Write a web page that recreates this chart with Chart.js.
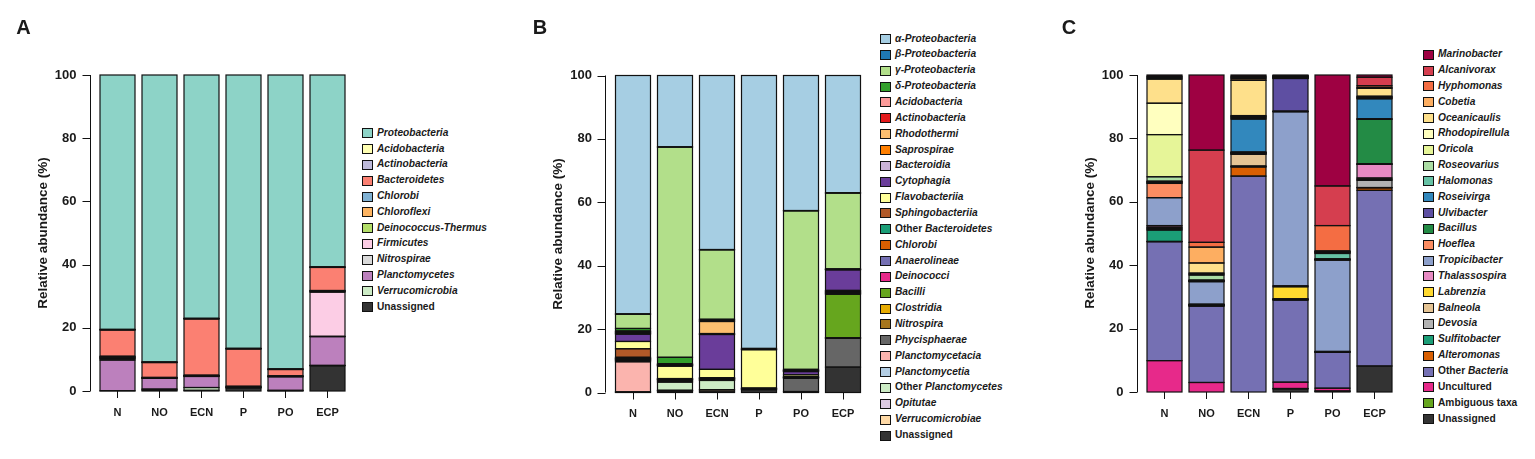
<!DOCTYPE html>
<html>
<head>
<meta charset="utf-8">
<script src="https://cdn.jsdelivr.net/npm/chart.js@4.4.1/dist/chart.umd.min.js"></script>
<style>
  body { margin: 0; background: #fff; width: 1535px; height: 459px; position: relative; overflow: hidden;
         font-family: "Liberation Sans", Arial, sans-serif; color: #1a1a1a; }
  canvas { position: absolute; top: 0; }
  .letter { position: absolute; font-size: 20px; font-weight: bold; line-height: 1; transform: translate(-50%, -50%); }
  .ytitle { position: absolute; font-size: 13.5px; font-weight: bold; line-height: 1; white-space: nowrap;
            transform: translate(-50%, -50%) rotate(-90deg); }
  .sw { position: absolute; width: 9px; height: 8px; border: 1px solid #111; }
  .leg { position: absolute; font-size: 10.2px; font-weight: bold; line-height: 12px; white-space: nowrap; }
</style>
</head>
<body>
<canvas id="chartA" width="352" height="459" style="left:0px"></canvas>
<canvas id="chartB" width="348" height="459" style="left:520px"></canvas>
<canvas id="chartC" width="350" height="459" style="left:1050px"></canvas>

<script>
// Samples on the x axis and y ticks shared by the three panels
const samples = ['N', 'NO', 'ECN', 'P', 'PO', 'ECP'];
const yTicks = [0, 20, 40, 60, 80, 100];

// Panel A - phylum level (legend order, top of stack first)
const phylumNames = ['Proteobacteria', 'Acidobacteria', 'Actinobacteria', 'Bacteroidetes', 'Chlorobi',
  'Chloroflexi', 'Deinococcus-Thermus', 'Firmicutes', 'Nitrospirae', 'Planctomycetes', 'Verrucomicrobia', 'Unassigned'];
const phylumColors = ['#8dd3c7', '#ffffb3', '#bebada', '#fb8072', '#80b1d3', '#fdb462', '#b3de69', '#fccde5',
  '#d9d9d9', '#bc80bd', '#ccebc5', '#333333'];
// one row per phylum, columns N, NO, ECN, P, PO, ECP
const phylumShares = [
  [80.5, 90.8, 77.0, 86.5, 93.0, 60.7],
  [0.1, 0.1, 0.1, 0.1, 0.1, 0.1],
  [0.1, 0.1, 0.1, 0.1, 0.1, 0.1],
  [8.3, 4.7, 17.8, 11.8, 2.0, 7.3],
  [0.2, 0, 0, 0, 0, 0.1],
  [0.2, 0, 0.1, 0, 0, 0.2],
  [0.2, 0.1, 0.1, 0, 0.1, 0.2],
  [0.2, 0.1, 0.1, 0, 0.1, 14.0],
  [0.4, 0.1, 0.1, 0.2, 0.1, 0.1],
  [9.7, 3.4, 3.5, 0.2, 4.3, 9.1],
  [0.1, 0.3, 0.9, 0.1, 0.1, 0.1],
  [0, 0.3, 0.2, 1.0, 0.1, 8.0]
];

// Panel B - class level
const classNames = ['α-Proteobacteria', 'β-Proteobacteria', 'γ-Proteobacteria', 'δ-Proteobacteria', 'Acidobacteria',
  'Actinobacteria', 'Rhodothermi', 'Saprospirae', 'Bacteroidia', 'Cytophagia', 'Flavobacteriia', 'Sphingobacteriia',
  'Other Bacteroidetes', 'Chlorobi', 'Anaerolineae', 'Deinococci', 'Bacilli', 'Clostridia', 'Nitrospira',
  'Phycisphaerae', 'Planctomycetacia', 'Planctomycetia', 'Other Planctomycetes', 'Opitutae', 'Verrucomicrobiae', 'Unassigned'];
const classColors = ['#a6cee3', '#1f78b4', '#b2df8a', '#33a02c', '#fb9a99', '#e31a1c', '#fdbf6f', '#ff7f00',
  '#cab2d6', '#6a3d9a', '#ffff99', '#b15928', '#1b9e77', '#d95f02', '#7570b3', '#e7298a', '#66a61e', '#e6ab02',
  '#a6761d', '#666666', '#fbb4ae', '#b3cde3', '#ccebc5', '#decbe4', '#fed9a6', '#333333'];
const classShares = [
  [75.2, 22.5, 54.9, 86.1, 42.6, 37.0],
  [0.1, 0.1, 0.1, 0, 0.1, 0.1],
  [4.5, 66.3, 21.9, 0.2, 50.0, 23.9],
  [0.8, 2.0, 0.2, 0, 0.2, 0],
  [0.2, 0.2, 0.3, 0.1, 0.1, 0.1],
  [0.2, 0.1, 0.2, 0, 0.1, 0],
  [0.2, 0.1, 3.8, 0, 0.1, 0],
  [0.2, 0.1, 0.2, 0, 0.1, 0.1],
  [0.2, 0.1, 0.1, 0, 0.1, 0.1],
  [2.3, 0.2, 11.0, 0.1, 1.0, 6.5],
  [2.3, 3.9, 2.6, 12.1, 0.6, 0.2],
  [2.7, 0.1, 0.1, 0, 0.1, 0.2],
  [0.2, 0.1, 0.1, 0, 0.1, 0.2],
  [0.2, 0, 0, 0, 0, 0.2],
  [0.1, 0, 0.1, 0, 0, 0.2],
  [0.1, 0, 0, 0, 0, 0.2],
  [0.2, 0, 0, 0, 0.1, 13.7],
  [0.1, 0.1, 0.1, 0.1, 0.1, 0.1],
  [0.2, 0.1, 0.1, 0.1, 0.1, 0.1],
  [0.3, 0.2, 0.2, 0.2, 4.2, 9.1],
  [9.5, 0.4, 0.1, 0, 0, 0],
  [0, 0.1, 0.1, 0, 0, 0],
  [0.1, 2.6, 2.9, 0, 0, 0],
  [0, 0.1, 0.1, 0, 0, 0],
  [0.1, 0.1, 0.6, 0.1, 0, 0],
  [0, 0.5, 0.2, 0.9, 0.3, 8.0]
];

// Panel C - genus level
const genusNames = ['Marinobacter', 'Alcanivorax', 'Hyphomonas', 'Cobetia', 'Oceanicaulis', 'Rhodopirellula',
  'Oricola', 'Roseovarius', 'Halomonas', 'Roseivirga', 'Ulvibacter', 'Bacillus', 'Hoeflea', 'Tropicibacter',
  'Thalassospira', 'Labrenzia', 'Balneola', 'Devosia', 'Sulfitobacter', 'Alteromonas', 'Other Bacteria',
  'Uncultured', 'Ambiguous taxa', 'Unassigned'];
const genusColors = ['#9e0142', '#d53e4f', '#f46d43', '#fdae61', '#fee08b', '#ffffbf', '#e6f598', '#abdda4',
  '#66c2a5', '#3288bd', '#5e4fa2', '#238b45', '#fc8d62', '#8da0cb', '#e78ac3', '#ffd92f', '#e5c494', '#b3b3b3',
  '#1b9e77', '#d95f02', '#7570b3', '#e7298a', '#66a61e', '#333333'];
const genusShares = [
  [0.4, 23.7, 0.4, 0.2, 35.0, 0.7],
  [0.3, 29.1, 0.4, 0.1, 12.5, 2.7],
  [0.3, 1.5, 0.4, 0.1, 8.0, 0.6],
  [0.3, 5.0, 0.5, 0.1, 0.2, 0.2],
  [7.6, 3.2, 11.1, 0.1, 0.1, 2.5],
  [9.9, 0.3, 0.3, 0.1, 0.1, 0.2],
  [13.3, 0.3, 0.2, 0.1, 0.2, 0.2],
  [1.4, 1.6, 0.3, 0.1, 0.2, 0.2],
  [0.2, 0.1, 0.3, 0.1, 1.7, 0.2],
  [0.1, 0.1, 10.4, 0.1, 0.1, 6.3],
  [0.2, 0.1, 0.1, 10.3, 0.1, 0.2],
  [0.2, 0.1, 0.1, 0.1, 0.1, 14.0],
  [4.5, 0.1, 0.1, 0.1, 0.1, 0.1],
  [8.8, 7.1, 0.2, 54.9, 28.8, 0.1],
  [0.5, 0.1, 0.1, 0.3, 0, 4.3],
  [0.3, 0.1, 0.1, 3.8, 0, 0.4],
  [0.3, 0.1, 3.7, 0.1, 0, 0.3],
  [0.3, 0.1, 0.2, 0.1, 0.1, 2.3],
  [3.6, 0.1, 0.1, 0.1, 0.1, 0.1],
  [0.1, 0.1, 2.9, 0.1, 0.1, 0.8],
  [37.5, 24.1, 68.1, 25.9, 11.3, 55.4],
  [9.9, 3.0, 0, 2.0, 0.9, 0],
  [0, 0, 0, 0.1, 0.1, 0],
  [0, 0, 0, 1.0, 0.2, 8.2]
];

// words that stay upright in the legends, everything else is a taxon name in italics
const uprightWords = ['Other', 'Unassigned', 'Uncultured', 'Ambiguous', 'taxa'];

const FONT = '"Liberation Sans", Arial, sans-serif';

// R-style y axis: line set a little left of the first bar, with outward ticks
const detachedYAxis = {
  id: 'detachedYAxis',
  afterDraw(chart) {
    const { ctx, chartArea, scales: { y } } = chart;
    const x = Math.round(chartArea.left - 7) + 0.5;
    ctx.save();
    ctx.strokeStyle = '#111';
    ctx.lineWidth = 1;
    ctx.beginPath();
    ctx.moveTo(x, y.getPixelForValue(0));
    ctx.lineTo(x, y.getPixelForValue(100));
    yTicks.forEach(v => {
      const py = Math.round(y.getPixelForValue(v)) + 0.5;
      ctx.moveTo(x - 8, py);
      ctx.lineTo(x, py);
    });
    ctx.stroke();
    ctx.restore();
  }
};

// outline every stacked segment like R's barplot does (stroke centred on the edges,
// so very thin segments still show up as black lines)
const segmentOutlines = {
  id: 'segmentOutlines',
  afterDatasetsDraw(chart) {
    const ctx = chart.ctx;
    ctx.save();
    ctx.strokeStyle = '#111';
    ctx.lineWidth = 1.2;
    chart.data.datasets.forEach((ds, di) => {
      chart.getDatasetMeta(di).data.forEach((bar, j) => {
        if (!ds.data[j]) return;
        const { x, y, base, width } = bar.getProps(['x', 'y', 'base', 'width'], true);
        ctx.strokeRect(x - width / 2, Math.min(y, base), width, Math.abs(base - y));
      });
    });
    ctx.restore();
  }
};

function drawPanel(id, yWidth, padRight, top, bottom, names, colors, shares) {
  const canvas = document.getElementById(id);
  // stacked from the bottom, so the last legend entry goes first
  const datasets = names.map((name, i) => ({
    label: name,
    data: shares[i],
    backgroundColor: colors[i],
    borderWidth: 0,
    barPercentage: 35 / 42,
    categoryPercentage: 1
  })).reverse();

  new Chart(canvas, {
    type: 'bar',
    data: { labels: samples, datasets: datasets },
    options: {
      responsive: false,
      animation: false,
      layout: { padding: { left: 0, right: padRight, top: top, bottom: 0 } },
      plugins: { legend: { display: false }, tooltip: { enabled: false } },
      scales: {
        x: {
          stacked: true,
          border: { display: false },
          grid: { display: true, drawOnChartArea: false, offset: false, drawTicks: true, tickLength: 7, color: '#111' },
          ticks: { color: '#1a1a1a', padding: 8, font: { family: FONT, size: 11, weight: 'bold' } },
          afterFit: s => { s.height = canvas.height - bottom; }
        },
        y: {
          stacked: true,
          min: 0,
          max: 100,
          border: { display: false },
          grid: { display: false, drawTicks: false },
          ticks: { stepSize: 20, padding: 20, color: '#1a1a1a', font: { family: FONT, size: 13, weight: 'bold' } },
          afterFit: s => { s.width = yWidth; }
        }
      }
    },
    plugins: [segmentOutlines, detachedYAxis]
  });
}

function addText(cls, x, y, text) {
  const d = document.createElement('div');
  d.className = cls;
  d.style.left = x + 'px';
  d.style.top = y + 'px';
  d.textContent = text;
  document.body.appendChild(d);
}

function drawLegend(left, firstY, step, names, colors) {
  names.forEach((name, i) => {
    const cy = firstY + i * step;
    const sw = document.createElement('div');
    sw.className = 'sw';
    sw.style.left = left + 'px';
    sw.style.top = (cy - 5) + 'px';
    sw.style.background = colors[i];
    document.body.appendChild(sw);

    const tx = document.createElement('div');
    tx.className = 'leg';
    tx.style.left = (left + 15) + 'px';
    tx.style.top = (cy - 6.5) + 'px';
    tx.innerHTML = name.split(' ')
      .map(w => uprightWords.includes(w) ? w : '<i>' + w + '</i>')
      .join(' ');
    document.body.appendChild(tx);
  });
}

drawPanel('chartA', 96.5, 3.5, 75, 391, phylumNames, phylumColors, phylumShares);
drawPanel('chartB', 92, 4, 75.5, 392.5, classNames, classColors, classShares);
drawPanel('chartC', 93.5, 4.5, 75, 392, genusNames, genusColors, genusShares);

addText('letter', 23.5, 27, 'A');
addText('letter', 540, 27, 'B');
addText('letter', 1069, 27, 'C');

addText('ytitle', 43, 233, 'Relative abundance (%)');
addText('ytitle', 558, 234, 'Relative abundance (%)');
addText('ytitle', 1090, 233, 'Relative abundance (%)');

drawLegend(362, 133.3, 15.8, phylumNames, phylumColors);
drawLegend(880, 39, 15.86, classNames, classColors);
drawLegend(1423, 54.7, 15.84, genusNames, genusColors);
</script>
</body>
</html>
